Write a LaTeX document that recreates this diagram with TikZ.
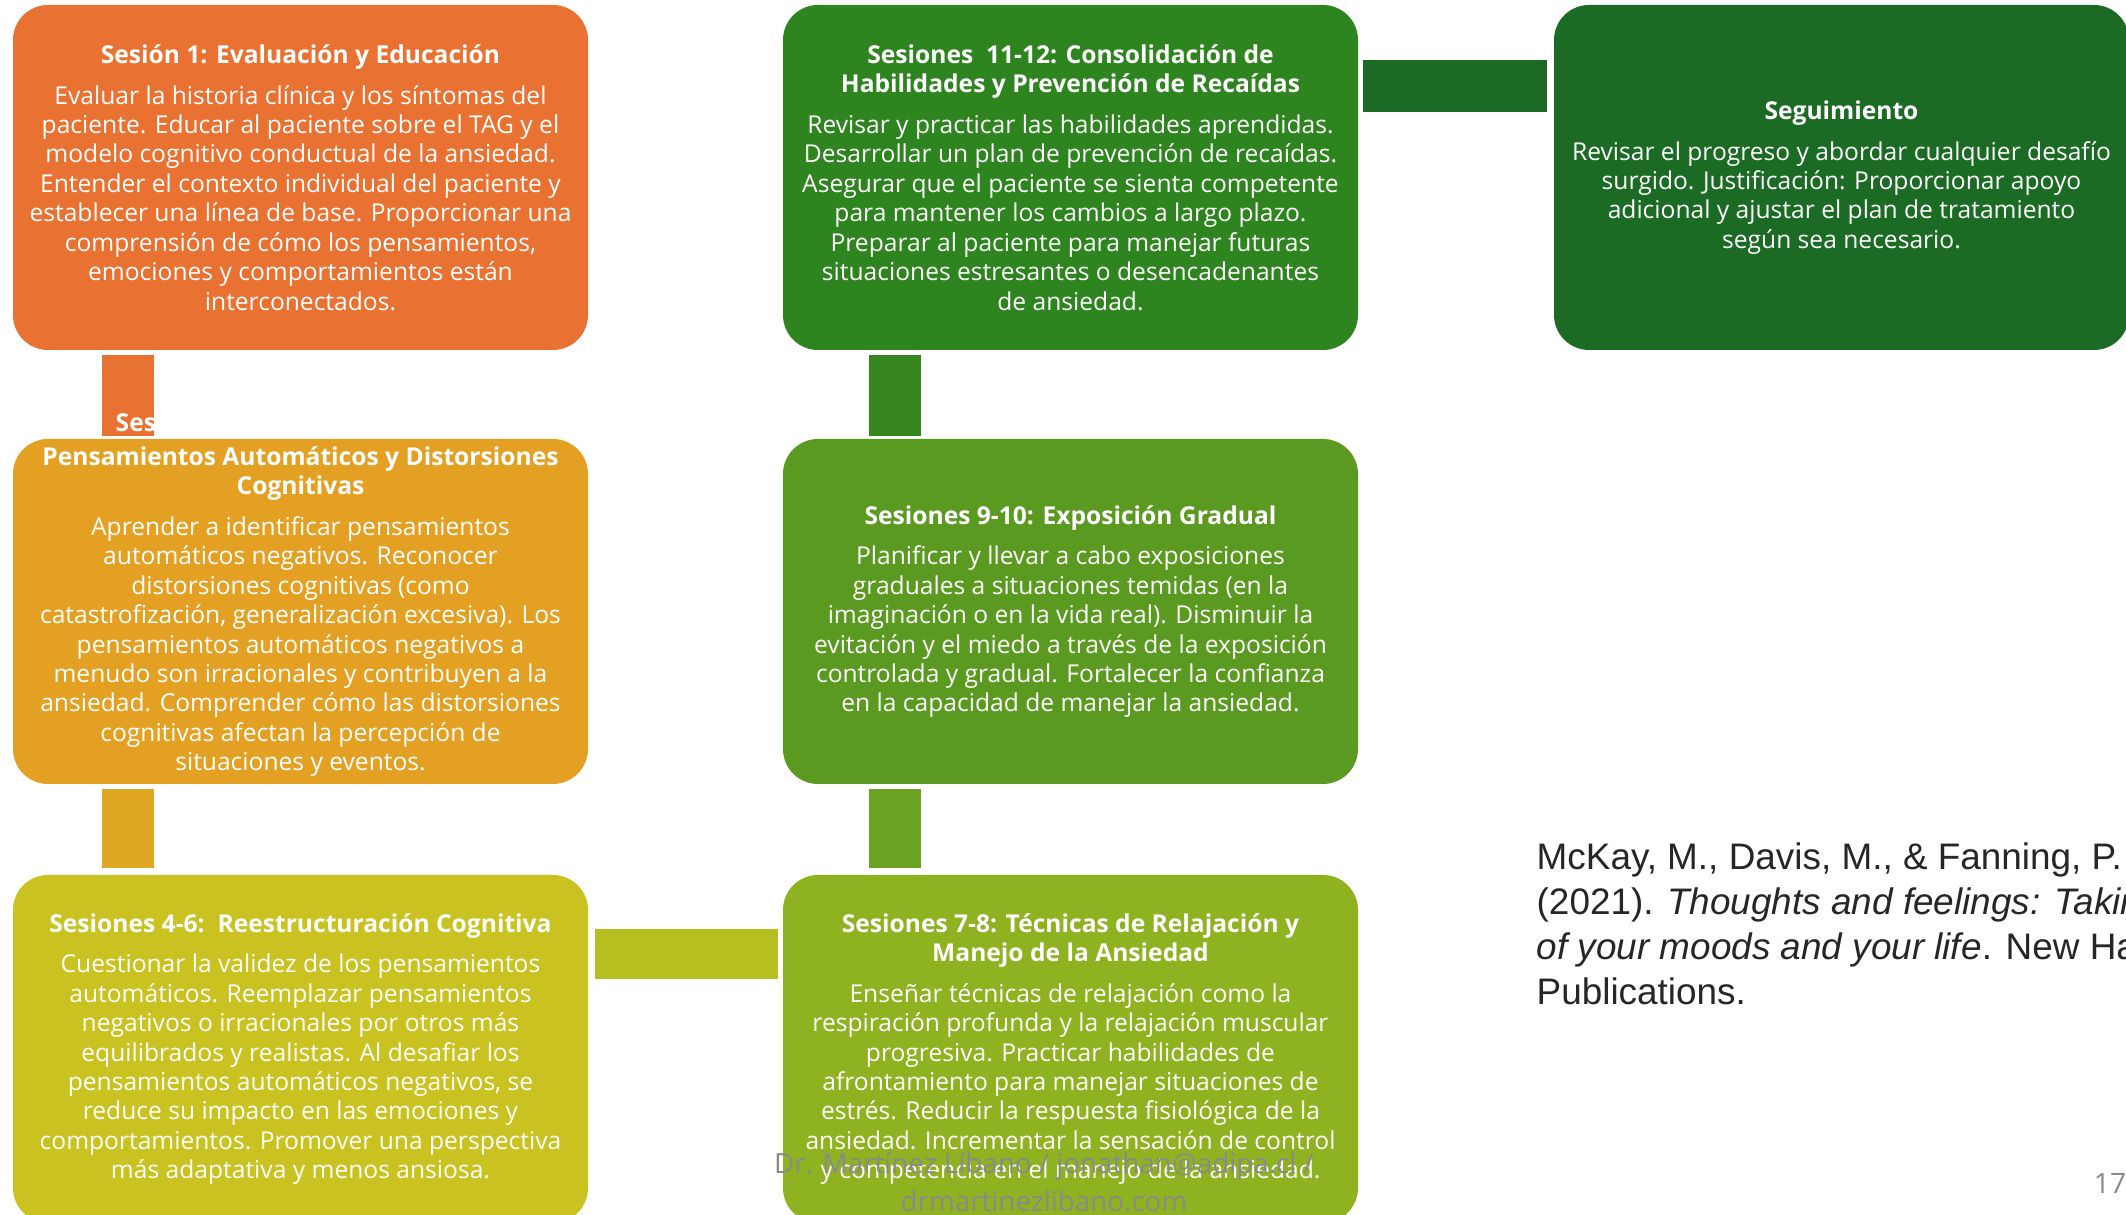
\documentclass[tikz,border=0pt]{standalone}
\usepackage{fontspec}
\setmainfont{Open Sans}
\newfontfamily\citafont{Liberation Sans}
\usetikzlibrary{calc}
\definecolor{naranja}{HTML}{E97132}
\definecolor{dorado}{HTML}{E3A022}
\definecolor{doradob}{HTML}{E0A822}
\definecolor{mostaza}{HTML}{C9C221}
\definecolor{mostazab}{HTML}{B6BF1F}
\definecolor{lima}{HTML}{8FB221}
\definecolor{limab}{HTML}{6BA322}
\definecolor{verde}{HTML}{5B9A20}
\definecolor{verdeb}{HTML}{37871F}
\definecolor{pasto}{HTML}{2E841E}
\definecolor{bosque}{HTML}{1B6B24}
\definecolor{marca}{HTML}{8A8A8A}

\begin{document}
\begin{tikzpicture}[
  font=\fontsize{7}{8.37}\selectfont,
  sesion/.style={rounded corners=0.35cm, minimum width=5.75cm, minimum height=3.45cm,
    inner sep=0pt, align=center, text=white},
  barra/.style={line width=0.52cm}
]
\useasboundingbox (0,0) rectangle (21.26,12.15);
\clip (0,0) rectangle (21.26,12.15);

% columna izquierda
\node[sesion, fill=naranja] (s1) at (3.005,10.375) {\textbf{Sesión 1: Evaluación y Educación}\\[3.2pt]
Evaluar la historia clínica y los síntomas del\\ paciente. Educar al paciente sobre el TAG y el\\
modelo cognitivo conductual de la ansiedad.\\ Entender el contexto individual del paciente y\\
establecer una línea de base. Proporcionar una\\ comprensión de cómo los pensamientos,\\
emociones y comportamientos están\\ interconectados.};
\node[sesion, fill=dorado] (s2) at (3.005,6.035) {\textbf{Pensamientos Automáticos y Distorsiones}\\ \textbf{Cognitivas}\\[3.2pt]
Aprender a identificar pensamientos\\ automáticos negativos. Reconocer\\ distorsiones cognitivas (como\\
catastrofización, generalización excesiva). Los\\ pensamientos automáticos negativos a\\
menudo son irracionales y contribuyen a la\\ ansiedad. Comprender cómo las distorsiones\\
cognitivas afectan la percepción de\\ situaciones y eventos.};
\node[sesion, fill=mostaza, minimum height=3.48cm] (s3) at (3.005,1.66) {\textbf{Sesiones 4-6:\ \ Reestructuración Cognitiva}\\[3.2pt]
Cuestionar la validez de los pensamientos\\ automáticos. Reemplazar pensamientos\\
negativos o irracionales por otros más\\ equilibrados y realistas. Al desafiar los\\
pensamientos automáticos negativos, se\\ reduce su impacto en las emociones y\\
comportamientos. Promover una perspectiva\\ más adaptativa y menos ansiosa.};

% columna central
\node[sesion, fill=pasto] (s4) at (10.705,10.375) {\textbf{Sesiones\ \ 11-12: Consolidación de}\\ \textbf{Habilidades y Prevención de Recaídas}\\[3.2pt]
Revisar y practicar las habilidades aprendidas.\\ Desarrollar un plan de prevención de recaídas.\\
Asegurar que el paciente se sienta competente\\ para mantener los cambios a largo plazo.\\
Preparar al paciente para manejar futuras\\ situaciones estresantes o desencadenantes\\ de ansiedad.};
\node[sesion, fill=verde] (s5) at (10.705,6.035) {\textbf{Sesiones 9-10: Exposición Gradual}\\[3.2pt]
Planificar y llevar a cabo exposiciones\\ graduales a situaciones temidas (en la\\
imaginación o en la vida real). Disminuir la\\ evitación y el miedo a través de la exposición\\
controlada y gradual. Fortalecer la confianza\\ en la capacidad de manejar la ansiedad.};
\node[sesion, fill=lima, minimum height=3.48cm] (s6) at (10.705,1.66) {\textbf{Sesiones 7-8: Técnicas de Relajación y}\\ \textbf{Manejo de la Ansiedad}\\[3.2pt]
Enseñar técnicas de relajación como la\\ respiración profunda y la relajación muscular\\
progresiva. Practicar habilidades de\\ afrontamiento para manejar situaciones de\\
estrés. Reducir la respuesta fisiológica de la\\ ansiedad. Incrementar la sensación de control\\
y competencia en el manejo de la ansiedad.};

% seguimiento
\node[sesion, fill=bosque] (s7) at (18.415,10.375) {\textbf{Seguimiento}\\[3.2pt]
Revisar el progreso y abordar cualquier desafío\\ surgido. Justificación: Proporcionar apoyo\\
adicional y ajustar el plan de tratamiento\\ según sea necesario.};

% barras de union
\draw[barra, naranja] ($(s1.south west)+(1.155,-0.04)$) -- ($(s2.north west)+(1.155,0.02)$);
\draw[barra, doradob] ($(s2.south west)+(1.155,-0.04)$) -- ($(s3.north west)+(1.155,0.06)$);
\draw[barra, mostazab, line width=0.5cm] ($(s3.north east)+(0.06,-0.80)$) -- ($(s6.north west)+(-0.04,-0.80)$);
\draw[barra, limab] ($(s6.north west)+(1.125,0.06)$) -- ($(s5.south west)+(1.125,-0.04)$);
\draw[barra, verdeb] ($(s5.north west)+(1.125,0.02)$) -- ($(s4.south west)+(1.125,-0.04)$);
\draw[barra, bosque] ($(s4.north east)+(0.04,-0.82)$) -- ($(s7.north west)+(-0.06,-0.82)$);

\begin{scope}
\clip (1.02,7.78) rectangle (1.55,8.61);
\node[anchor=west, inner sep=0pt, text=white, font=\fontsize{7}{8.37}\selectfont\bfseries] (ses) at (1.15,7.92) {Ses};
\end{scope}

\node[anchor=west, inner sep=0pt, align=left, text=black!85,
  font=\citafont\fontsize{10.5}{12.8}\selectfont] (cita) at (15.36,2.91)
  {McKay, M., Davis, M., \& Fanning, P.\\ (2021). \textit{Thoughts and feelings: Takin}\\
   \textit{of your moods and your life}. New Ha\\ Publications.};

\node[align=center, text=marca, font=\fontsize{7.9}{10.8}\selectfont] (firma) at (10.44,0.33)
  {Dr. Martínez Líbano / jonathan@adipa.cl /\\ drmartinezlibano.com};
\node[text=marca, font=\fontsize{8}{9}\selectfont] (pag) at (21.1,0.32) {17};
\end{tikzpicture}
\end{document}
